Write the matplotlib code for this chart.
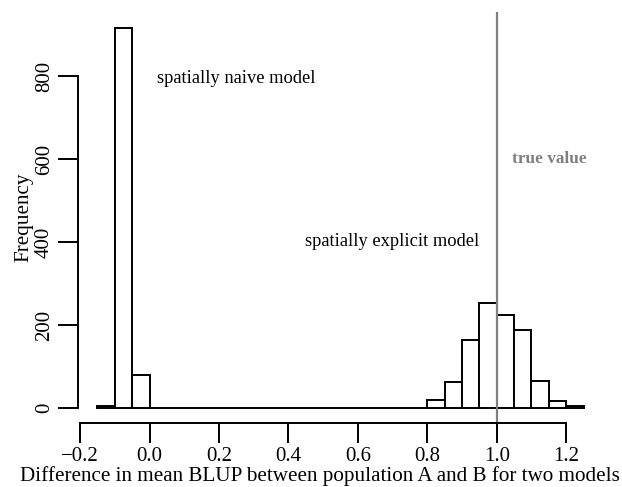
import numpy as np
import matplotlib
matplotlib.use("Agg")
import matplotlib.pyplot as plt

# histogram bins (width 0.05) and counts for the two models
bin_edges = np.round(np.arange(-0.15, 1.25 + 0.001, 0.05), 2)
naive_counts = [4, 916, 80]                       # -0.15 .. 0.00
explicit_counts = [1, 1, 19, 63, 163, 253, 225, 188, 65, 16, 5]  # 0.70 .. 1.25
counts = naive_counts + [0] * 14 + explicit_counts

true_value = 1.0
x_ticks = [-0.2, 0.0, 0.2, 0.4, 0.6, 0.8, 1.0, 1.2]
y_ticks = [0, 200, 400, 600, 800]

plt.rcParams["font.family"] = ["Liberation Serif", "DejaVu Serif"]
plt.rcParams.update({
    "xtick.major.size": 14.4, "ytick.major.size": 14.4,
    "xtick.major.width": 1.4, "ytick.major.width": 1.4,
    "xtick.major.pad": 3, "ytick.major.pad": 3,
    "xtick.labelsize": 15, "ytick.labelsize": 15,
})

fig = plt.figure(figsize=(6.22, 4.87), dpi=100)
ax = fig.add_axes([78 / 622, 1 - 423.2 / 487, (603 - 78) / 622, (423.2 - 11.8) / 487])

ax.bar(bin_edges[:-1], counts, width=0.05, align="edge",
       facecolor="white", edgecolor="black", linewidth=1.4)
ax.axvline(true_value, color="#808080", lw=1.6)

ax.text(0.25, 795, "spatially naive model", ha="center", va="center", fontsize=13.3)
ax.text(0.70, 400, "spatially explicit model", ha="center", va="center", fontsize=13.3)
ax.text(1.15, 600, "true value", ha="center", va="center", fontsize=12.4,
        color="#808080", fontweight="bold")

ax.set_xlim(-0.206, 1.306)
ax.set_ylim(-36.7, 954.7)

for s in ("top", "right"):
    ax.spines[s].set_visible(False)
ax.spines["left"].set_bounds(0, 800)
ax.spines["bottom"].set_bounds(-0.2, 1.2)
for s in ("left", "bottom"):
    ax.spines[s].set_linewidth(1.4)

ax.set_xticks(x_ticks)
ax.set_xticklabels(["\u22120.2"] + [f"{v:.1f}" for v in x_ticks[1:]])
ax.set_yticks(y_ticks)
ax.set_yticklabels([str(v) for v in y_ticks], rotation=90, va="center")

ax.set_ylabel("Frequency", fontsize=15.2)
ax.yaxis.set_label_coords((33 - 78) / 525, 0.5)
fig.text(320 / 622, 1 - 481 / 487, "Difference in mean BLUP between population A and B for two models",
         ha="center", va="baseline", fontsize=15.2)

fig.savefig("out.png", dpi=100)
